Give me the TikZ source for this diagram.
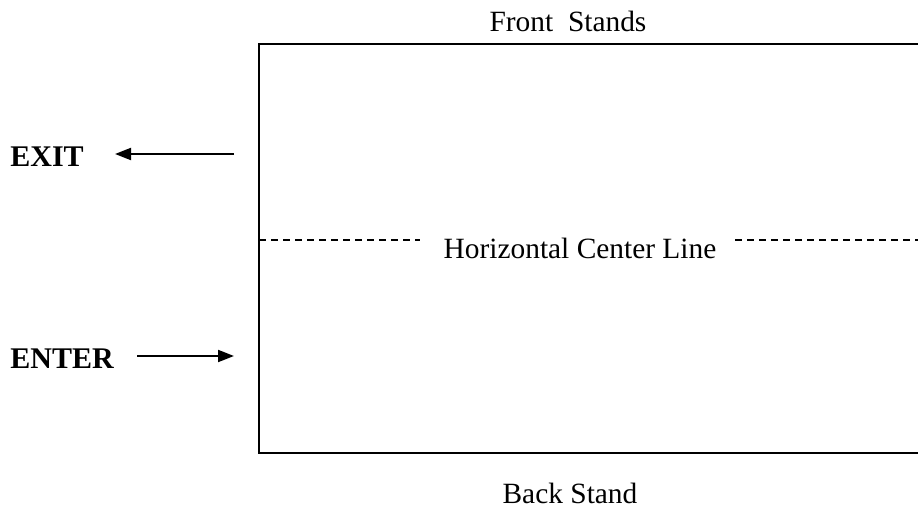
\documentclass[tikz,border=0pt]{standalone}
\usepackage{fontspec}
\setmainfont{Liberation Serif}
\usetikzlibrary{arrows.meta,positioning}

\begin{document}
\begin{tikzpicture}[x=0.5pt, y=-0.5pt, font=\fontsize{14.7}{17}\selectfont]
    \tikzstyle{wall} = [line width=1pt, black]
    \tikzstyle{centerline} = [line width=0.6pt, dash pattern=on 3.6pt off 2.4pt]
    \tikzstyle{label} = [inner sep=0pt, anchor=base]
    \tikzstyle{doorlabel} = [inner sep=0pt, anchor=base west, font=\fontsize{15}{17}\selectfont\bfseries]
    \tikzstyle{flow} = [line width=1pt, -{Triangle[length=8pt, width=6pt]}]

    \useasboundingbox (0,0) rectangle (918,508);

    % Arena outline (open to the right)
    \coordinate (tl) at (259,44);
    \coordinate (tr) at (918,44);
    \coordinate (bl) at (259,453);
    \coordinate (br) at (918,453);
    \draw[wall] (tr) -- (tl) -- (bl) -- (br);

    % Stands
    \node[label] (front) at (568,32) {Front\ \ Stands};
    \node[label] (back) at (570,504) {Back Stand};

    % Center line
    \node[label] (hcl) at (580,259) {Horizontal Center Line};
    \coordinate (hcll) at (259,240);
    \coordinate (hclr) at (918,240);
    \draw[centerline] (hcll) -- (hcll -| 420,0);
    \draw[centerline] (hclr -| 735,0) -- (hclr);

    % Exit and enter
    \node[doorlabel] (exit) at (10,167) {EXIT};
    \node[doorlabel] (enter) at (10,369) {ENTER};
    \coordinate (exitfrom) at (234,154);
    \coordinate (exitto) at (115,154);
    \coordinate (enterfrom) at (137,356);
    \coordinate (enterto) at (234,356);
    \draw[flow] (exitfrom) -- (exitto);
    \draw[flow] (enterfrom) -- (enterto);
\end{tikzpicture}
\end{document}
